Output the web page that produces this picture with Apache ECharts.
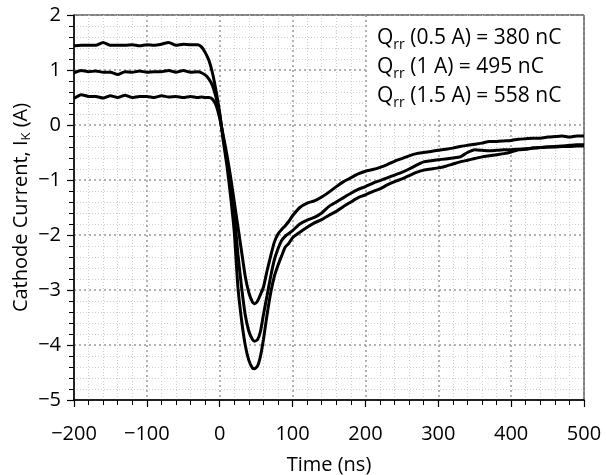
<!DOCTYPE html>
<html>
<head>
<meta charset="utf-8">
<script src="https://cdn.jsdelivr.net/npm/echarts@6/dist/echarts.min.js"></script>
<style>html,body{margin:0;padding:0;background:#fff;}#c{width:606px;height:475px;}</style>
</head>
<body>
<div id="c"></div>
<script>
var timeNs = [-200,-190,-180,-170,-160,-150,-140,-130,-120,-110,-100,-90,-80,-70,-60,-50,-40,-30,
  -25,-20,-15,-10,-5,0,5,10,15,20,25,30,35,40,45,48,52,56,60,65,70,75,80,85,90,95,100,
  110,120,130,140,150,160,170,180,190,200,210,220,230,240,250,260,270,280,290,300,
  310,320,330,340,350,360,370,380,390,400,410,420,430,440,450,460,470,480,490,500];

var i05 = [0.48,0.55,0.52,0.52,0.49,0.53,0.50,0.54,0.50,0.52,0.52,0.50,0.53,0.51,0.52,0.50,0.52,0.50,
  0.51,0.50,0.50,0.47,0.36,0.12,-0.20,-0.55,-0.95,-1.40,-1.85,-2.30,-2.75,-3.05,-3.22,-3.25,-3.20,-3.08,-2.95,-2.65,-2.38,-2.13,-1.98,-1.90,-1.83,-1.75,-1.65,
  -1.50,-1.42,-1.38,-1.31,-1.22,-1.12,-1.03,-0.96,-0.89,-0.84,-0.81,-0.77,-0.72,-0.66,-0.61,-0.56,-0.52,-0.50,-0.48,-0.46,
  -0.44,-0.42,-0.39,-0.37,-0.35,-0.33,-0.30,-0.30,-0.29,-0.28,-0.26,-0.25,-0.24,-0.24,-0.22,-0.21,-0.20,-0.22,-0.20,-0.20];

var i10 = [0.95,0.99,0.97,0.98,0.96,0.96,0.92,0.97,0.96,0.98,0.96,0.97,0.97,0.99,0.96,0.99,0.96,0.97,
  0.95,0.91,0.84,0.72,0.50,0.18,-0.25,-0.65,-1.10,-1.65,-2.35,-2.95,-3.45,-3.75,-3.90,-3.93,-3.90,-3.75,-3.45,-3.10,-2.75,-2.45,-2.25,-2.10,-2.02,-1.97,-1.92,
  -1.80,-1.73,-1.68,-1.60,-1.48,-1.40,-1.32,-1.24,-1.17,-1.12,-1.06,-1.01,-0.96,-0.91,-0.86,-0.80,-0.73,-0.67,-0.65,-0.63,
  -0.62,-0.60,-0.58,-0.50,-0.45,-0.46,-0.47,-0.46,-0.45,-0.45,-0.44,-0.43,-0.42,-0.41,-0.40,-0.39,-0.38,-0.37,-0.36,-0.36];

var i15 = [1.44,1.45,1.45,1.45,1.50,1.45,1.45,1.45,1.46,1.44,1.46,1.45,1.47,1.50,1.45,1.47,1.46,1.46,
  1.42,1.32,1.18,0.95,0.62,0.22,-0.30,-0.75,-1.30,-1.95,-2.95,-3.55,-4.00,-4.28,-4.42,-4.43,-4.38,-4.20,-3.90,-3.45,-3.05,-2.75,-2.55,-2.38,-2.22,-2.15,-2.05,
  -1.95,-1.86,-1.78,-1.72,-1.64,-1.57,-1.48,-1.40,-1.32,-1.27,-1.21,-1.16,-1.09,-1.03,-0.98,-0.92,-0.86,-0.82,-0.80,-0.78,
  -0.75,-0.71,-0.67,-0.64,-0.61,-0.58,-0.56,-0.54,-0.52,-0.49,-0.45,-0.44,-0.42,-0.41,-0.40,-0.40,-0.39,-0.39,-0.38,-0.38];

var seriesNames = ['0.5 A', '1 A', '1.5 A'];
var seriesValues = [i05, i10, i15];
var annotations = [
  ['(0.5 A) = 380 nC'],
  ['(1 A) = 495 nC'],
  ['(1.5 A) = 558 nC']
];

var FONT = 'Open Sans';
var chart = echarts.init(document.getElementById('c'));

function pairs(vals) {
  return timeNs.map(function (t, i) { return [t, vals[i]]; });
}
function minusFmt(v) { return String(v).replace('-', '\u2212'); }

var subRich = {
  m: { fontFamily: FONT, fontSize: 20, color: '#000', lineHeight: 24 },
  s: { fontFamily: FONT, fontSize: 13, color: '#000', lineHeight: 11, verticalAlign: 'bottom' }
};
var annRich = {
  m: { fontFamily: FONT, fontSize: 21, color: '#000', lineHeight: 29 },
  s: { fontFamily: FONT, fontSize: 14, color: '#000', lineHeight: 13, verticalAlign: 'bottom' }
};

var axisCommon = {
  axisLine: { show: true, onZero: false, lineStyle: { color: '#000', width: 1.5 } },
  axisTick: { show: true, inside: false, length: 7, lineStyle: { color: '#000', width: 1.2 } },
  minorTick: { show: true, splitNumber: 5, length: 5, lineStyle: { color: '#000', width: 1 } },
  splitLine: { show: true, lineStyle: { color: '#999', width: 1.5, type: [2, 3] } },
  minorSplitLine: { show: true, lineStyle: { color: '#cfcfcf', width: 1, type: [1, 2] } },
  axisLabel: { fontFamily: FONT, fontSize: 20, color: '#000', formatter: minusFmt }
};

var graphics = [{
  type: 'rect', z: 100,
  shape: { x: 368, y: 16, width: 215, height: 103 },
  style: { fill: '#fff' }
}];
annotations.forEach(function (a, k) {
  graphics.push({
    type: 'text', z: 101, x: 377, y: 38 + k * 29,
    style: {
      text: '{m|Q}{s|rr}{m| ' + a[0] + '}',
      rich: annRich,
      verticalAlign: 'middle', align: 'left'
    }
  });
});

chart.setOption({
  animation: false,
  backgroundColor: '#fff',
  grid: { left: 74, right: 22, top: 15, bottom: 75, show: true, borderColor: '#000', borderWidth: 1,
    backgroundColor: 'transparent', outerBoundsMode: 'none', containLabel: false },
  xAxis: Object.assign({}, axisCommon, {
    type: 'value', min: -200, max: 500, interval: 100,
    name: 'Time (ns)', nameLocation: 'middle', nameGap: 55, nameMoveOverlap: false,
    nameTextStyle: { fontFamily: FONT, fontSize: 20, color: '#000' },
    axisLabel: Object.assign({}, axisCommon.axisLabel, { margin: 24 })
  }),
  yAxis: Object.assign({}, axisCommon, {
    type: 'value', min: -5, max: 2, interval: 1,
    name: '{m|Cathode Current, I}{s|K}{m| (A)}', nameLocation: 'middle', nameGap: 41, nameMoveOverlap: false,
    nameTextStyle: { fontFamily: FONT, fontSize: 20, color: '#000', rich: subRich },
    axisLabel: Object.assign({}, axisCommon.axisLabel, { margin: 13 })
  }),
  series: seriesValues.map(function (vals, k) {
    return {
      name: seriesNames[k], type: 'line', data: pairs(vals),
      showSymbol: false, symbol: 'none', smooth: 0.2,
      lineStyle: { color: '#000', width: 3 }, z: 3
    };
  }),
  graphic: graphics
});
</script>
</body>
</html>
